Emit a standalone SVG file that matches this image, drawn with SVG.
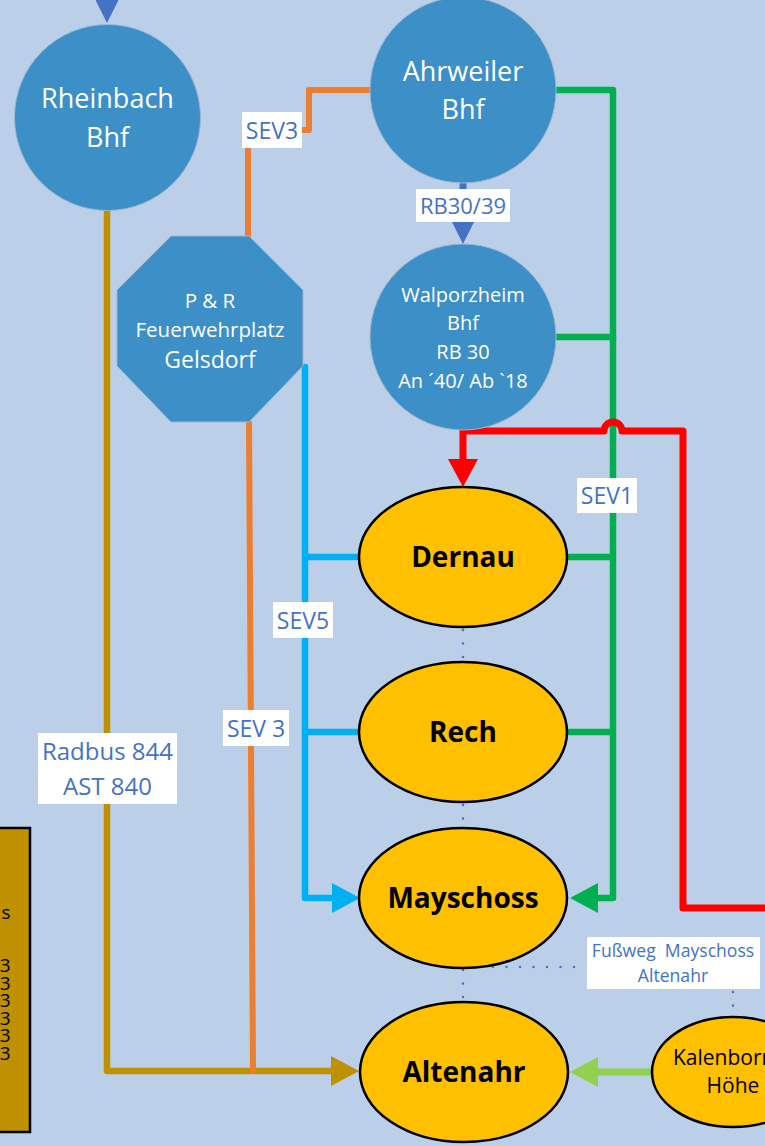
<svg xmlns="http://www.w3.org/2000/svg" width="765" height="1146" viewBox="0 0 765 1146">
<style>
.bg{fill:#BBCFE8}
.stn{fill:#3C8FC7;stroke:#9FB6CF;stroke-width:1}
.stt{font-family:"Open Sans","Noto Sans",sans-serif;fill:#FFFFFF;text-anchor:middle}
.loc{fill:#FFC000;stroke:#000000;stroke-width:2.5}
.lt{font-family:"Open Sans","Noto Sans",sans-serif;font-weight:bold;font-size:28px;fill:#000000;text-anchor:middle}
.ln{fill:none;stroke-linecap:round;stroke-linejoin:round}
.dot{fill:none;stroke:#4472C4;stroke-width:2.5;stroke-dasharray:0 13.5;stroke-linecap:round}
.lb{fill:#FFFFFF}
.lbt{font-family:"Open Sans","Noto Sans",sans-serif;fill:#4472C4;text-anchor:middle}
</style>
<defs>
<marker id="aRed" viewBox="0 0 28 30" refX="0" refY="15" markerWidth="28" markerHeight="30" markerUnits="userSpaceOnUse" orient="auto"><path d="M0,0 L28,15 L0,30 z" fill="#FF0000"/></marker>
<marker id="aGreen" viewBox="0 0 28 30" refX="0" refY="15" markerWidth="28" markerHeight="30" markerUnits="userSpaceOnUse" orient="auto"><path d="M0,0 L28,15 L0,30 z" fill="#00B050"/></marker>
<marker id="aCyan" viewBox="0 0 28 30" refX="0" refY="15" markerWidth="28" markerHeight="30" markerUnits="userSpaceOnUse" orient="auto"><path d="M0,0 L28,15 L0,30 z" fill="#00B0F0"/></marker>
<marker id="aGold" viewBox="0 0 28 30" refX="0" refY="15" markerWidth="28" markerHeight="30" markerUnits="userSpaceOnUse" orient="auto"><path d="M0,0 L28,15 L0,30 z" fill="#BF9000"/></marker>
<marker id="aLime" viewBox="0 0 28 30" refX="0" refY="15" markerWidth="28" markerHeight="30" markerUnits="userSpaceOnUse" orient="auto"><path d="M0,0 L28,15 L0,30 z" fill="#92D050"/></marker>
<marker id="aBlue" viewBox="0 0 23 23" refX="0" refY="11.5" markerWidth="23" markerHeight="23" markerUnits="userSpaceOnUse" orient="auto"><path d="M0,0 L23,11.5 L0,23 z" fill="#4472C4"/></marker>
</defs>
<rect class="bg" x="0" y="0" width="765" height="1146"/>

<g id="connectors">
  <!-- dotted footpaths -->
  <path class="dot" d="M463,630 V662"/>
  <path class="dot" d="M463,805 V828"/>
  <path class="dot" d="M463,970 V1002"/>
  <path class="dot" d="M466,967 H586"/>
  <path class="dot" d="M733,992 V1017"/>
  <!-- top arrow into Rheinbach -->
  <path class="ln" d="M107,-10 V0" stroke="#4472C4" stroke-width="7" marker-end="url(#aBlue)"/>
  <!-- RB30/39 -->
  <path class="ln" d="M463,185 V221" stroke="#4472C4" stroke-width="7" marker-end="url(#aBlue)"/>
  <!-- gold Radbus -->
  <path class="ln" d="M107,210 V1071 H331" stroke="#BF9000" stroke-width="6.5" marker-end="url(#aGold)"/>
  <!-- orange SEV3 -->
  <path class="ln" d="M371,90 H309 V130 H248 V237" stroke="#ED7D31" stroke-width="6"/>
  <path class="ln" d="M249,423 L253,1071" stroke="#ED7D31" stroke-width="6"/>
  <!-- cyan SEV5 -->
  <path class="ln" d="M305,367 V898 H332" stroke="#00B0F0" stroke-width="6.5" marker-end="url(#aCyan)"/>
  <path class="ln" d="M305,557 H361" stroke="#00B0F0" stroke-width="6.5"/>
  <path class="ln" d="M305,732 H361" stroke="#00B0F0" stroke-width="6.5"/>
  <!-- green SEV1 -->
  <path class="ln" d="M556,90 H613 V898 H598" stroke="#00B050" stroke-width="6.5" marker-end="url(#aGreen)"/>
  <path class="ln" d="M556,337 H613" stroke="#00B050" stroke-width="6.5"/>
  <path class="ln" d="M566,557 H611" stroke="#00B050" stroke-width="6.5"/>
  <path class="ln" d="M566,732 H611" stroke="#00B050" stroke-width="6.5"/>
  <!-- red -->
  <path class="ln" d="M770,908 H683 V431 H622 A9,9 0 0 0 604,431 H463 V459" stroke="#FF0000" stroke-width="7" marker-end="url(#aRed)"/>
  <!-- light green -->
  <path class="ln" d="M652,1072 H598" stroke="#92D050" stroke-width="7" marker-end="url(#aLime)"/>

  <!-- labels -->
  <rect class="lb" x="242" y="112" width="60" height="36"/>
  <text class="lbt" x="272" y="139" font-size="23">SEV3</text>
  <rect class="lb" x="416" y="189" width="94" height="33"/>
  <text class="lbt" x="463" y="214" font-size="22">RB30/39</text>
  <rect class="lb" x="577" y="478" width="60" height="35"/>
  <text class="lbt" x="607" y="504" font-size="23">SEV1</text>
  <rect class="lb" x="273" y="602" width="60" height="36"/>
  <text class="lbt" x="303" y="629" font-size="23">SEV5</text>
  <rect class="lb" x="223" y="710" width="66" height="36"/>
  <text class="lbt" x="256" y="737" font-size="23">SEV 3</text>
  <rect class="lb" x="38" y="733" width="139" height="71"/>
  <text class="lbt" x="107.5" y="760" font-size="24">Radbus 844</text>
  <text class="lbt" x="107.5" y="795" font-size="24">AST 840</text>
  <rect class="lb" x="587" y="937" width="173" height="52"/>
  <text class="lbt" x="673" y="957" font-size="17.6" xml:space="preserve">Fußweg  Mayschoss</text>
  <text class="lbt" x="673" y="982" font-size="17.6">Altenahr</text>
</g>

<g id="rheinbach">
  <circle class="stn" cx="107.5" cy="117.5" r="93"/>
  <text class="stt" x="107.5" y="108" font-size="27">Rheinbach</text>
  <text class="stt" x="107.5" y="147" font-size="27">Bhf</text>
</g>
<g id="ahrweiler">
  <circle class="stn" cx="463" cy="90" r="93"/>
  <text class="stt" x="463" y="81" font-size="27">Ahrweiler</text>
  <text class="stt" x="463" y="119" font-size="27">Bhf</text>
</g>
<g id="walporzheim">
  <circle class="stn" cx="463" cy="337" r="93"/>
  <text class="stt" x="463" y="302" font-size="20">Walporzheim</text>
  <text class="stt" x="463" y="330" font-size="20">Bhf</text>
  <text class="stt" x="463" y="359" font-size="20">RB 30</text>
  <text class="stt" x="463" y="388" font-size="20">An ´40/ Ab `18</text>
</g>
<g id="gelsdorf">
  <polygon class="stn" points="171,236 249,236 303,290 303,366 249,422 171,422 117,366 117,290"/>
  <text class="stt" x="210" y="308" font-size="20.5">P &amp; R</text>
  <text class="stt" x="210" y="337" font-size="20.5">Feuerwehrplatz</text>
  <text class="stt" x="210" y="368" font-size="23">Gelsdorf</text>
</g>
<g id="dernau">
  <ellipse class="loc" cx="463" cy="557" rx="104" ry="70"/>
  <text class="lt" x="463" y="567">Dernau</text>
</g>
<g id="rech">
  <ellipse class="loc" cx="463" cy="732" rx="104" ry="70"/>
  <text class="lt" x="463" y="742">Rech</text>
</g>
<g id="mayschoss">
  <ellipse class="loc" cx="463" cy="898" rx="104" ry="70"/>
  <text class="lt" x="463" y="908">Mayschoss</text>
</g>
<g id="altenahr">
  <ellipse class="loc" cx="464" cy="1072" rx="104" ry="70"/>
  <text class="lt" x="464" y="1082">Altenahr</text>
</g>
<g id="kalenborn">
  <ellipse class="loc" cx="733" cy="1072" rx="81" ry="55"/>
  <text x="673" y="1065" font-family="Open Sans, Noto Sans, sans-serif" font-size="21" fill="#000000">Kalenborn</text>
  <text x="733" y="1093" font-family="Open Sans, Noto Sans, sans-serif" font-size="21" fill="#000000" text-anchor="middle">Höhe</text>
</g>
<g id="legend">
  <rect x="-5" y="828" width="35" height="304" fill="#BF9000" stroke="#000000" stroke-width="2.5"/>
  <g font-family="Open Sans, Noto Sans, sans-serif" font-size="19" fill="#000000" text-anchor="end">
    <text x="10.5" y="919">s</text>
    <text x="10.5" y="972">3</text>
    <text x="10.5" y="990">3</text>
    <text x="10.5" y="1007">3</text>
    <text x="10.5" y="1025">3</text>
    <text x="10.5" y="1042">3</text>
    <text x="10.5" y="1060">3</text>
  </g>
</g>
</svg>
